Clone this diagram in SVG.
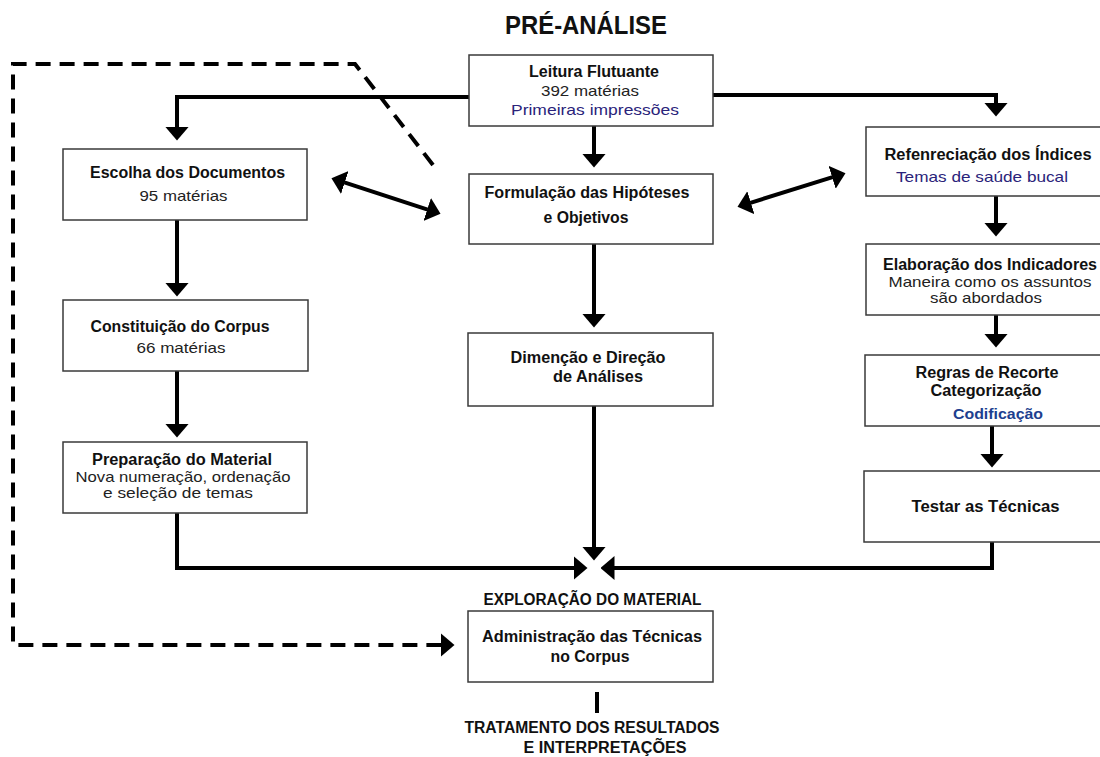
<svg xmlns="http://www.w3.org/2000/svg" width="1100" height="757" viewBox="0 0 1100 757">
<style>
.box{fill:#fff;stroke:#3a3a3a;stroke-width:1.5}
.b{font-family:"Liberation Sans",Arial,sans-serif;font-weight:bold;font-size:16px;fill:#111;text-anchor:middle}
.r{font-family:"Liberation Sans",Arial,sans-serif;font-size:15px;fill:#222;text-anchor:middle}
.blue{fill:#2a237a}
.cod{fill:#1d3f8f;font-weight:bold}
.title{font-family:"Liberation Sans",Arial,sans-serif;font-weight:bold;font-size:25px;fill:#111;text-anchor:middle}
.ln{fill:none;stroke:#000;stroke-width:4}
.arr{marker-end:url(#ah)}
.dbl{marker-start:url(#ah);marker-end:url(#ah)}
.dash{fill:none;stroke:#000;stroke-width:4;stroke-dasharray:15 9}
</style>
<defs>
<marker id="ah" viewBox="0 0 14 24" refX="0.5" refY="12" markerWidth="14" markerHeight="24" markerUnits="userSpaceOnUse" orient="auto-start-reverse">
<path d="M0,0 L14,12 L0,24 z" fill="#000"/>
</marker>
</defs>
<rect width="1100" height="757" fill="#fff"/>
<text class="title" x="586" y="34" textLength="162" lengthAdjust="spacingAndGlyphs">PRÉ-ANÁLISE</text>

<g id="connectors">
<path class="dash arr" d="M433,165 L355,64 L13,64 L13,645 L441,645"/>
<path class="ln arr" d="M469,97 L177,97 L177,127"/>
<path class="ln arr" d="M594,126 L594,154"/>
<path class="ln arr" d="M713,95 L996,95 L996,103"/>
<path class="ln arr" d="M177,220 L177,283"/>
<path class="ln arr" d="M177,371 L177,424"/>
<path class="ln arr" d="M594,244 L594,314"/>
<path class="ln arr" d="M594,406 L594,547"/>
<path class="ln arr" d="M177,513 L177,568 L574,568"/>
<path class="ln arr" d="M992,542 L992,568 L614,568"/>
<path class="ln arr" d="M996,196 L996,223"/>
<path class="ln arr" d="M996,315 L996,334"/>
<path class="ln arr" d="M992,426 L992,454"/>
<path class="ln dbl" d="M344.3,182.4 L427.7,209.6"/>
<path class="ln dbl" d="M750.4,202.8 L832.6,177.2"/>
<path class="ln" d="M597,692 L597,713"/>
</g>

<g id="leitura">
<rect class="box" x="469" y="55" width="244" height="71"/>
<text class="b" x="594" y="77" textLength="130" lengthAdjust="spacingAndGlyphs">Leitura Flutuante</text>
<text class="r" x="590" y="96" textLength="98" lengthAdjust="spacingAndGlyphs">392 matérias</text>
<text class="r blue" x="595" y="115" textLength="168" lengthAdjust="spacingAndGlyphs">Primeiras impressões</text>
</g>

<g id="formulacao">
<rect class="box" x="469" y="174" width="244" height="70"/>
<text class="b" x="587" y="198" textLength="205" lengthAdjust="spacingAndGlyphs">Formulação das Hipóteses</text>
<text class="b" x="586" y="223" textLength="85" lengthAdjust="spacingAndGlyphs">e Objetivos</text>
</g>

<g id="dimencao">
<rect class="box" x="468" y="333" width="245" height="73"/>
<text class="b" x="588" y="363" textLength="155" lengthAdjust="spacingAndGlyphs">Dimenção e Direção</text>
<text class="b" x="598" y="382" textLength="90" lengthAdjust="spacingAndGlyphs">de Análises</text>
</g>

<g id="escolha">
<rect class="box" x="63" y="149" width="244" height="71"/>
<text class="b" x="187.5" y="178" textLength="195" lengthAdjust="spacingAndGlyphs">Escolha dos Documentos</text>
<text class="r" x="183.5" y="201" textLength="88" lengthAdjust="spacingAndGlyphs">95 matérias</text>
</g>

<g id="constituicao">
<rect class="box" x="63" y="300" width="245" height="71"/>
<text class="b" x="180" y="332" textLength="179" lengthAdjust="spacingAndGlyphs">Constituição do Corpus</text>
<text class="r" x="181" y="353" textLength="89" lengthAdjust="spacingAndGlyphs">66 matérias</text>
</g>

<g id="preparacao">
<rect class="box" x="63" y="442" width="244" height="71"/>
<text class="b" x="182" y="465" textLength="180" lengthAdjust="spacingAndGlyphs">Preparação do Material</text>
<text class="r" x="183" y="482" textLength="215" lengthAdjust="spacingAndGlyphs">Nova numeração, ordenação</text>
<text class="r" x="178" y="498" textLength="150" lengthAdjust="spacingAndGlyphs">e seleção de temas</text>
</g>

<g id="refenreciacao">
<rect class="box" x="866" y="127" width="240" height="69"/>
<text class="b" x="988" y="160" textLength="207" lengthAdjust="spacingAndGlyphs">Refenreciação dos Índices</text>
<text class="r blue" x="982" y="182" textLength="172" lengthAdjust="spacingAndGlyphs">Temas de saúde bucal</text>
</g>

<g id="elaboracao">
<rect class="box" x="866" y="244" width="240" height="71"/>
<text class="b" x="990" y="270" textLength="214" lengthAdjust="spacingAndGlyphs">Elaboração dos Indicadores</text>
<text class="r" x="990" y="287" textLength="203" lengthAdjust="spacingAndGlyphs">Maneira como os assuntos</text>
<text class="r" x="986" y="303" textLength="112" lengthAdjust="spacingAndGlyphs">são abordados</text>
</g>

<g id="regras">
<rect class="box" x="865" y="355" width="241" height="71"/>
<text class="b" x="987" y="378" textLength="143" lengthAdjust="spacingAndGlyphs">Regras de Recorte</text>
<text class="b" x="986" y="396" textLength="111" lengthAdjust="spacingAndGlyphs">Categorização</text>
<text class="r cod" x="998" y="419" textLength="90" lengthAdjust="spacingAndGlyphs">Codificação</text>
</g>

<g id="testar">
<rect class="box" x="864" y="471" width="242" height="71"/>
<text class="b" x="985.5" y="512" textLength="148" lengthAdjust="spacingAndGlyphs">Testar as Técnicas</text>
</g>

<g id="exploracao">
<text class="b" x="592.5" y="605" textLength="218" lengthAdjust="spacingAndGlyphs">EXPLORAÇÃO DO MATERIAL</text>
</g>

<g id="administracao">
<rect class="box" x="468" y="611" width="245" height="71"/>
<text class="b" x="592" y="642" textLength="220" lengthAdjust="spacingAndGlyphs">Administração das Técnicas</text>
<text class="b" x="590" y="662" textLength="79" lengthAdjust="spacingAndGlyphs">no Corpus</text>
</g>

<g id="tratamento">
<text class="b" x="592" y="733" textLength="255" lengthAdjust="spacingAndGlyphs">TRATAMENTO DOS RESULTADOS</text>
<text class="b" x="605" y="753" textLength="163" lengthAdjust="spacingAndGlyphs">E INTERPRETAÇÕES</text>
</g>
</svg>
